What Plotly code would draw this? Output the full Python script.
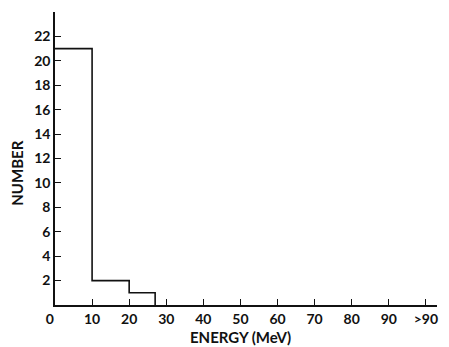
import plotly.graph_objects as go

bin_edges = [0, 10, 20, 27]
counts = [21, 2, 1]

x_tick_vals = [0, 10, 20, 30, 40, 50, 60, 70, 80, 90, 100]
x_tick_text = ["0   ", "10", "20", "30", "40", "50", "60", "70", "80", "90", ">90"]
y_tick_vals = [2, 4, 6, 8, 10, 12, 14, 16, 18, 20, 22]

step_x = list(bin_edges)
step_y = list(counts) + [0]

fig = go.Figure()
fig.add_trace(go.Scatter(
    x=step_x, y=step_y, mode="lines",
    line=dict(color="#111", width=1.6, shape="hv"),
    hoverinfo="skip", showlegend=False,
))

tfont = dict(family="Lato", size=14, color="#111", weight="bold")
fig.update_layout(
    width=449, height=347,
    margin=dict(l=55, r=12, t=12, b=42),
    paper_bgcolor="white", plot_bgcolor="white",
    font=dict(family="Lato", size=14, color="#111"),
    xaxis=dict(
        range=[0, 103], showgrid=False, zeroline=False, automargin=False,
        showline=True, linecolor="#111", linewidth=1.6,
        ticks="inside", ticklen=6, tickwidth=1.4, tickcolor="#111",
        tickvals=x_tick_vals, ticktext=x_tick_text,
        tickfont=tfont,
    ),
    yaxis=dict(
        range=[0, 24], showgrid=False, zeroline=False, automargin=False,
        showline=True, linecolor="#111", linewidth=1.6,
        ticks="inside", ticklen=6, tickwidth=1.4, tickcolor="#111",
        tickvals=y_tick_vals, ticktext=[str(v) for v in y_tick_vals],
        tickfont=tfont,
    ),
    annotations=[
        dict(text="NUMBER", xref="paper", yref="paper", x=-0.098, y=0.45,
             textangle=-90, showarrow=False, xanchor="center", yanchor="middle",
             font=dict(family="Lato", size=15, color="#111", weight="bold")),
        dict(text="ENERGY (MeV)", xref="x", yref="paper", x=50, y=-0.11,
             showarrow=False, xanchor="center", yanchor="middle",
             font=dict(family="Lato", size=15, color="#111", weight="bold")),
    ],
)

fig.write_html(
    "out.html",
    config={"displayModeBar": False},
    post_script="document.body.style.margin='0';document.body.style.overflow='hidden';",
)
